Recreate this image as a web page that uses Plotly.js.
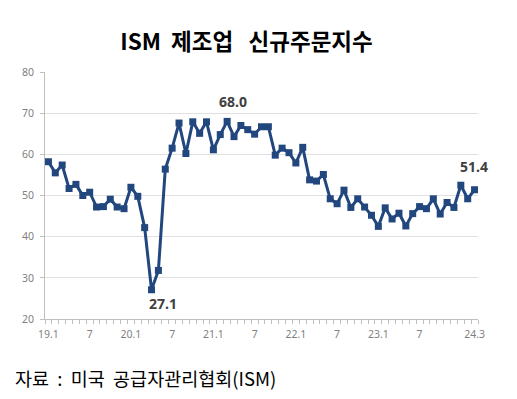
<!DOCTYPE html>
<html>
<head>
<meta charset="utf-8">
<script src="https://cdn.plot.ly/plotly-3.0.1.min.js"></script>
<style>html,body{margin:0;padding:0;background:#fff;}#chart{width:517px;height:399px;}</style>
</head>
<body>
<div id="chart"></div>
<script>
// Monthly ISM new orders index, 2019.1 - 2024.3
const months = [
  "19.1","19.2","19.3","19.4","19.5","19.6","19.7","19.8","19.9","19.10","19.11","19.12",
  "20.1","20.2","20.3","20.4","20.5","20.6","20.7","20.8","20.9","20.10","20.11","20.12",
  "21.1","21.2","21.3","21.4","21.5","21.6","21.7","21.8","21.9","21.10","21.11","21.12",
  "22.1","22.2","22.3","22.4","22.5","22.6","22.7","22.8","22.9","22.10","22.11","22.12",
  "23.1","23.2","23.3","23.4","23.5","23.6","23.7","23.8","23.9","23.10","23.11","23.12",
  "24.1","24.2","24.3"
];
const newOrders = [
  58.2,55.5,57.4,51.7,52.7,50.0,50.8,47.2,47.3,49.1,47.2,46.8,
  52.0,49.8,42.2,27.1,31.8,56.4,61.5,67.6,60.2,67.9,65.1,67.9,
  61.1,64.8,68.0,64.3,67.0,66.0,64.9,66.7,66.7,59.8,61.5,60.4,
  57.9,61.7,53.8,53.5,55.1,49.2,48.0,51.3,47.1,49.2,47.2,45.2,
  42.5,47.0,44.3,45.7,42.6,45.6,47.3,46.8,49.2,45.5,48.3,47.1,
  52.5,49.2,51.4
];
const tickIdx = [0,6,12,18,24,30,36,42,48,54,62];
const tickText = ["19.1","7","20.1","7","21.1","7","22.1","7","23.1","7","24.3"];
const labelIdx = [15,26,62];

const xs = months.map((m,i)=>i);
const trace = {
  x: xs, y: newOrders, type:'scatter', mode:'lines+markers',
  line:{color:'#22477e', width:3},
  marker:{symbol:'square', size:7, color:'#22477e'},
  hoverinfo:'skip', showlegend:false
};

const annFont = {family:'Noto Sans, DejaVu Sans, sans-serif', size:14, color:'#404040', weight:'bold'};
const offsets = {15:{ax:11, ay:14}, 26:{ax:6, ay:-20}, 62:{ax:-1, ay:-23}};
const anns = labelIdx.map(i=>({
  x:i, y:newOrders[i], xref:'x', yref:'y', text:newOrders[i].toFixed(1),
  xshift:offsets[i].ax, yshift:-offsets[i].ay, xanchor:'center', yanchor:'middle',
  showarrow:false, font:annFont
}));

anns.push({
  xref:'paper', yref:'paper', x:(13-45)/433, y:(319-378)/247, xanchor:'left', yanchor:'middle',
  text:'자료&nbsp;&nbsp;:&nbsp;&nbsp;미국&nbsp;&nbsp;공급자관리협회(ISM)', showarrow:false,
  font:{family:'Noto Sans CJK KR, sans-serif', size:18.5, color:'#000'}
});

const layout = {
  width:517, height:399,
  margin:{l:45, r:39, t:72, b:80},
  paper_bgcolor:'#fff', plot_bgcolor:'#fff',
  title:{text:'<b>ISM&nbsp;&nbsp;제조업&nbsp;&nbsp;&nbsp;신규주문지수</b>', x:246.5/517, xref:'container', xanchor:'center',
         y:1-42/399, yref:'container', yanchor:'middle',
         font:{family:'Noto Sans CJK KR, sans-serif', size:22.5, color:'#000'}},
  xaxis:{
    range:[-0.5, 62.5], tickvals:tickIdx, ticktext:tickText, ticks:'', showgrid:false,
    zeroline:false, showline:true, linecolor:'#bfbfbf', linewidth:1, ticklabelstandoff:5,
    tickfont:{family:'Noto Sans, DejaVu Sans, sans-serif', size:10.5, color:'#7f7f7f'},
    minor:{tick0:0.5, dtick:1, ticks:'outside', ticklen:4, tickcolor:'#bfbfbf', tickwidth:1, showgrid:false}
  },
  yaxis:{
    range:[20,80], dtick:10, ticks:'outside', ticklen:4, tickcolor:'#bfbfbf',
    showgrid:true, gridcolor:'#e0e0e0', gridwidth:1, zeroline:false,
    showline:true, linecolor:'#bfbfbf', linewidth:1, ticklabelstandoff:4,
    tickfont:{family:'Noto Sans, DejaVu Sans, sans-serif', size:10.5, color:'#7f7f7f'}
  },
  annotations: anns
};

Plotly.newPlot('chart', [trace], layout, {staticPlot:true, displayModeBar:false});
</script>
</body>
</html>
